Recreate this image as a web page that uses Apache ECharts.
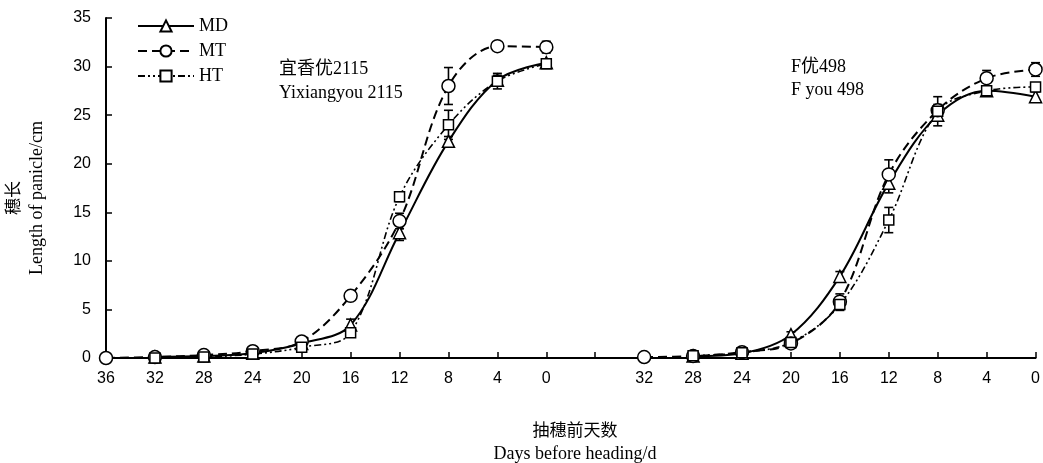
<!DOCTYPE html>
<html>
<head>
<meta charset="utf-8">
<script src="https://cdn.jsdelivr.net/npm/echarts@6/dist/echarts.min.js"></script>
<style>
html,body{margin:0;padding:0;background:#fff;}
#chart{width:1043px;height:463px;}
</style>
</head>
<body>
<div id="chart"></div>
<script>
// Tick labels along the shared x axis (left panel days, gap, right panel days)
var xTickLabels = ['36','32','28','24','20','16','12','8','4','0','','32','28','24','20','16','12','8','4','0'];
var daysLeft  = [36,32,28,24,20,16,12,8,4,0];
var daysRight = [32,28,24,20,16,12,8,4,0];

// 宜香优2115 (left panel)
var leftMD    = [null,0.1,0.2,0.5,1.5,3.4,12.9,22.3,28.6,30.4];
var leftMDErr = [0,0.05,0.1,0.1,0.2,0.6,0.8,0.5,0.5,0.3];
var leftMT    = [0,0.1,0.3,0.7,1.7,6.4,14.1,28.0,32.1,32.0];
var leftMTErr = [0,0.05,0.1,0.1,0.2,0.3,0.8,1.9,0.3,0.6];
var leftHT    = [null,0.0,0.1,0.4,1.1,2.6,16.6,24.0,28.5,30.3];
var leftHTErr = [0,0.05,0.1,0.1,0.2,0.3,0.5,1.5,0.8,0.3];

// F优498 (right panel)
var rightMD    = [null,0.2,0.5,2.4,8.4,18.0,25.0,27.5,26.9];
var rightMDErr = [0,0.1,0.1,0.3,0.5,1.0,0.6,0.4,0.5];
var rightMT    = [0.1,0.2,0.6,1.5,5.8,18.9,25.5,28.8,29.7];
var rightMTErr = [0,0.1,0.1,0.2,0.8,1.5,0.6,0.8,0.7];
var rightHT    = [null,0.24,0.55,1.6,5.5,14.2,25.4,27.5,27.9];
var rightHTErr = [0,0.1,0.1,0.2,0.6,1.3,1.5,0.3,0.4];

var yTicks = [0,5,10,15,20,25,30,35];

// category index of each panel's first day on the shared axis
var leftStart = xTickLabels.indexOf(String(daysLeft[0]));
var rightStart = xTickLabels.lastIndexOf(String(daysRight[0]));

function pts(vals, start){ return vals.map(function(v,i){ return [start+i, v]; }); }
function errPts(vals, errs, start){
  var out=[]; vals.forEach(function(v,i){ if(v!==null && errs[i]>0) out.push([start+i, v, errs[i]]); }); return out;
}

var serifFont = '"Liberation Serif","Times New Roman","Noto Sans CJK SC",serif';
var sansFont = '"Liberation Sans",Arial,sans-serif';

var styles = {
  MD:{symbol:'triangle', symbolSize:12, lineStyle:{color:'#000', width:2, type:'solid'}},
  MT:{symbol:'circle', symbolSize:13, lineStyle:{color:'#000', width:2, type:[9,5]}},
  HT:{symbol:'rect', symbolSize:10, lineStyle:{color:'#000', width:1.6, type:[7,3,2,3,2,3]}}
};

function lineSeries(name, vals, start){
  var s = styles[name];
  return {
    name:name, type:'line', data:pts(vals,start), smooth:0.35,
    symbol:s.symbol, symbolSize:s.symbolSize, showSymbol:true,
    lineStyle:s.lineStyle,
    itemStyle:{color:'#fff', borderColor:'#000', borderWidth:1.5},
    z:3, emphasis:{disabled:true}
  };
}

function errRender(params, api){
  var x = api.value(0), v = api.value(1), e = api.value(2);
  var t = api.coord([x, v+e]), b = api.coord([x, v-e]);
  var hw = 4.5;
  var st = {stroke:'#000', lineWidth:1.6};
  return {type:'group', children:[
    {type:'line', shape:{x1:t[0],y1:t[1],x2:b[0],y2:b[1]}, style:st},
    {type:'line', shape:{x1:t[0]-hw,y1:t[1],x2:t[0]+hw,y2:t[1]}, style:st},
    {type:'line', shape:{x1:b[0]-hw,y1:b[1],x2:b[0]+hw,y2:b[1]}, style:st}
  ]};
}
function errSeries(vals, errs, start){
  return {type:'custom', renderItem:errRender, data:errPts(vals,errs,start),
    encode:{x:0,y:1}, z:2, silent:true};
}

var chart = echarts.init(document.getElementById('chart'), null, {renderer:'canvas'});
chart.setOption({
  animation:false,
  backgroundColor:'#fff',
  grid:{left:106, right:6, top:18, bottom:105, containLabel:false},
  legend:{
    data:['MD','MT','HT'], orient:'vertical', left:137, top:17, padding:0,
    itemWidth:56, itemHeight:14, itemGap:7, selectedMode:false,
    textStyle:{fontFamily:serifFont, fontSize:18, color:'#000'}
  },
  xAxis:{
    type:'category', data:xTickLabels, boundaryGap:false,
    axisLine:{lineStyle:{color:'#000', width:2}},
    axisTick:{inside:true, length:6, interval:0, lineStyle:{color:'#000', width:1.5}},
    axisLabel:{interval:0, margin:13, color:'#000', fontFamily:sansFont, fontSize:16},
    splitLine:{show:false}
  },
  yAxis:{
    type:'value', min:yTicks[0], max:yTicks[yTicks.length-1], interval:yTicks[1]-yTicks[0],
    axisLine:{show:true, lineStyle:{color:'#000', width:2}},
    axisTick:{show:true, inside:true, length:6, lineStyle:{color:'#000', width:1.5}},
    axisLabel:{margin:15, color:'#000', fontFamily:sansFont, fontSize:16},
    splitLine:{show:false}
  },
  graphic:[
    {type:'text', left:279, top:60, style:{text:'宜香优2115', font:'18px '+serifFont, fill:'#000'}},
    {type:'text', left:279, top:84, style:{text:'Yixiangyou 2115', font:'18px '+serifFont, fill:'#000'}},
    {type:'text', left:791, top:58, style:{text:'F优498', font:'18px '+serifFont, fill:'#000'}},
    {type:'text', left:791, top:81, style:{text:'F you 498', font:'18px '+serifFont, fill:'#000'}},
    {type:'text', x:15, y:198, rotation:Math.PI/2, style:{text:'穗长', font:'17px '+serifFont, fill:'#000', align:'center', verticalAlign:'middle'}},
    {type:'text', x:37, y:198, rotation:Math.PI/2, style:{text:'Length of panicle/cm', font:'18px '+serifFont, fill:'#000', align:'center', verticalAlign:'middle'}},
    {type:'text', x:575, y:432, style:{text:'抽穗前天数', font:'17px '+serifFont, fill:'#000', align:'center', verticalAlign:'middle'}},
    {type:'text', x:575, y:454, style:{text:'Days before heading/d', font:'18px '+serifFont, fill:'#000', align:'center', verticalAlign:'middle'}}
  ],
  series:[
    errSeries(leftMD, leftMDErr, leftStart),
    errSeries(leftMT, leftMTErr, leftStart),
    errSeries(leftHT, leftHTErr, leftStart),
    errSeries(rightMD, rightMDErr, rightStart),
    errSeries(rightMT, rightMTErr, rightStart),
    errSeries(rightHT, rightHTErr, rightStart),
    lineSeries('MD', leftMD, leftStart),
    lineSeries('MT', leftMT, leftStart),
    lineSeries('HT', leftHT, leftStart),
    lineSeries('MD', rightMD, rightStart),
    lineSeries('MT', rightMT, rightStart),
    lineSeries('HT', rightHT, rightStart)
  ]
});
</script>
</body>
</html>
